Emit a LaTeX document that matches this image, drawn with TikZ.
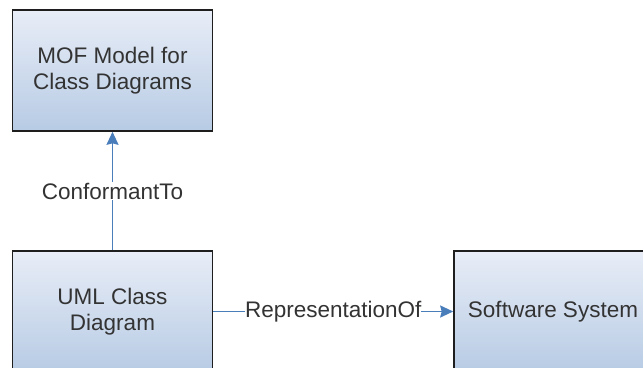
\documentclass[tikz,border=0pt]{standalone}
\usepackage{fontspec}
\setmainfont{Liberation Sans}
\usetikzlibrary{arrows.meta}
\definecolor{boxtop}{HTML}{E8EDF7}
\definecolor{boxbot}{HTML}{B7CBE4}
\definecolor{boxline}{HTML}{1E1E1E}
\definecolor{conn}{HTML}{4A7EBB}
\definecolor{txt}{HTML}{333333}
\tikzset{
  umlbox/.style={rectangle, draw=boxline, line width=1.6bp, top color=boxtop, bottom color=boxbot,
    minimum width=200bp, minimum height=121bp, inner sep=0pt, align=center, text=txt,
    font=\fontsize{22.5bp}{26bp}\selectfont},
  connector/.style={draw=conn, line width=1.8bp, -{Stealth[length=13bp, width=12bp, inset=1.5bp]}},
  connlabel/.style={fill=white, inner ysep=1pt, inner xsep=0pt, text=txt,
    font=\fontsize{22.5bp}{26bp}\selectfont}
}
\begin{document}
\begin{tikzpicture}[x=1bp, y=1bp]
\useasboundingbox (0,0) rectangle (643,367);
\begin{scope}
\clip (0,0) rectangle (643,367);
\node[umlbox] (mof) at (112.5,296.5) {MOF Model for\\Class Diagrams};
\node[umlbox] (uml) at (112.5,55.5) {UML Class\\Diagram};
\node[umlbox, minimum width=198bp] (sw) at (553,55.5) {Software System};
\end{scope}
\draw[connector] (uml.north) -- node[connlabel] (conf) {ConformantTo} (mof.south);
\draw[connector] (uml.east) -- node[connlabel] (rep) {RepresentationOf} (sw.west);
\end{tikzpicture}
\end{document}
